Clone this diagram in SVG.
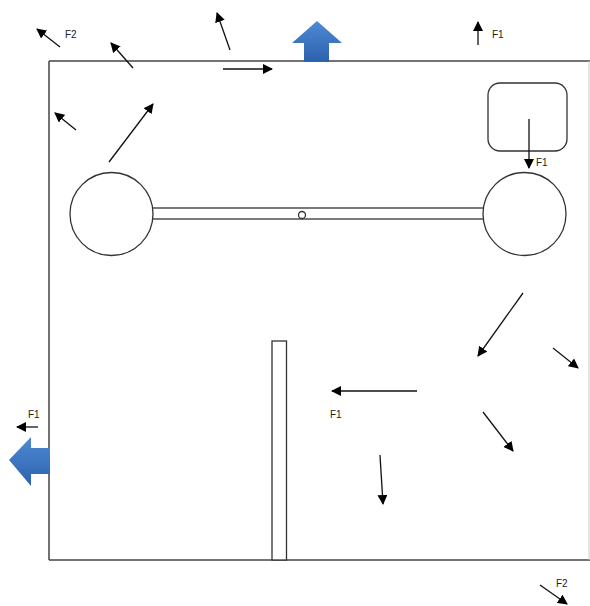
<svg xmlns="http://www.w3.org/2000/svg" width="590" height="606" viewBox="0 0 590 606">
<defs>
<marker id="ah" viewBox="0 0 10 10" refX="9" refY="5" markerWidth="10" markerHeight="10" markerUnits="userSpaceOnUse" orient="auto">
<path d="M0,0 L10,5 L0,10 z" fill="#000"/>
</marker>
<linearGradient id="gV" x1="0" y1="0" x2="0" y2="1">
<stop offset="0" stop-color="#4f8ad3"/>
<stop offset="1" stop-color="#2c61ad"/>
</linearGradient>
<linearGradient id="gH" x1="0" y1="0" x2="0" y2="1">
<stop offset="0" stop-color="#4f8ad3"/>
<stop offset="1" stop-color="#2c61ad"/>
</linearGradient>
</defs>
<style>
.frame{stroke:#444;stroke-width:1.5;fill:none}
.shape{stroke:#333;stroke-width:1.3;fill:#fff}
.arr{stroke:#111;stroke-width:1.3;fill:none;marker-end:url(#ah)}
.lbl{font-family:"Liberation Sans",Arial,sans-serif;font-size:10px;fill:#222}
</style>
<rect width="590" height="606" fill="#fff"/>
<g id="frame">
<line class="frame" x1="49" y1="61" x2="590" y2="61"/>
<line class="frame" x1="49" y1="61" x2="49" y2="560"/>
<line class="frame" x1="49" y1="560" x2="590" y2="560"/>
<line x1="589" y1="61" x2="589" y2="560" stroke="#ccc" stroke-width="1"/>
</g>
<g id="wall">
<rect class="shape" x="272" y="341" width="14.5" height="219"/>
</g>
<g id="bar">
<rect class="shape" x="152" y="208" width="332" height="11"/>
<circle class="shape" cx="302" cy="215" r="3.5"/>
</g>
<g id="left-circle"><circle class="shape" cx="111.5" cy="214" r="41.5"/></g>
<g id="right-circle"><circle class="shape" cx="524.5" cy="214" r="41.5"/></g>
<g id="box"><rect class="shape" x="488" y="83" width="79" height="68" rx="12"/></g>
<g id="blue-up"><path d="M317,21 L342,43 L329,43 L329,62 L304,62 L304,43 L292,43 z" fill="url(#gV)"/></g>
<g id="blue-left"><path d="M9,460 L31,437 L31,448 L50,448 L50,474 L31,474 L31,486 z" fill="url(#gH)"/></g>
<g id="connectors">
<line class="arr" x1="60" y1="47" x2="37" y2="29"/>
<line class="arr" x1="133" y1="68" x2="111" y2="43"/>
<line class="arr" x1="230" y1="50" x2="217" y2="13"/>
<line class="arr" x1="223" y1="69" x2="272" y2="69"/>
<line class="arr" x1="76" y1="130" x2="55" y2="113"/>
<line class="arr" x1="109" y1="162" x2="153" y2="104"/>
<line class="arr" x1="478" y1="45" x2="478" y2="22"/>
<line class="arr" x1="529" y1="119" x2="529" y2="168"/>
<line class="arr" x1="38" y1="427" x2="17" y2="427"/>
<line class="arr" x1="523" y1="293" x2="478" y2="356"/>
<line class="arr" x1="553" y1="348" x2="578" y2="368"/>
<line class="arr" x1="417" y1="391" x2="332" y2="391"/>
<line class="arr" x1="483" y1="412" x2="513" y2="451"/>
<line class="arr" x1="380" y1="455" x2="383" y2="504"/>
<line class="arr" x1="540" y1="585" x2="567" y2="604"/>
</g>
<g id="labels">
<text class="lbl" x="65" y="38">F2</text>
<text class="lbl" x="492" y="38">F1</text>
<text class="lbl" x="536" y="166">F1</text>
<text class="lbl" x="28" y="418">F1</text>
<text class="lbl" x="330" y="418">F1</text>
<text class="lbl" x="556" y="587">F2</text>
</g>
</svg>
